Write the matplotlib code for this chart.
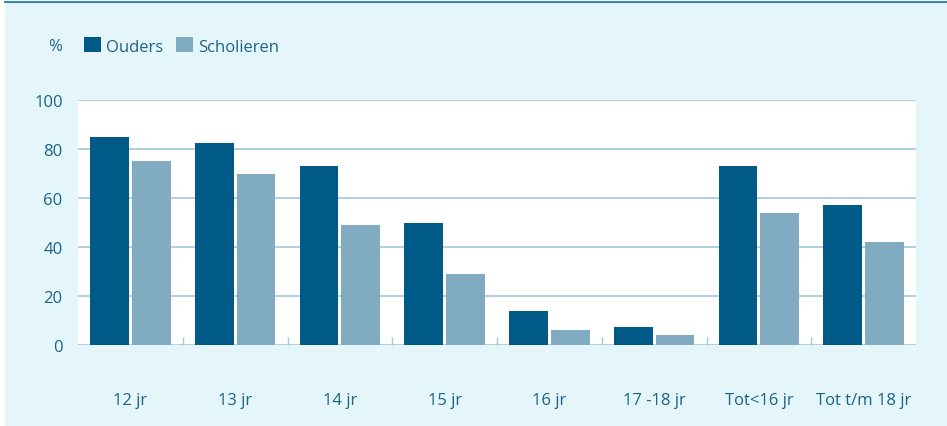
import numpy as np
import matplotlib.pyplot as plt
from matplotlib.patches import Rectangle
from matplotlib.lines import Line2D

# data
categories = ['12 jr', '13 jr', '14 jr', '15 jr', '16 jr', '17 -18 jr', 'Tot<16 jr', 'Tot t/m 18 jr']
ouders = [85, 82.5, 73, 50, 14, 7.5, 73, 57]
scholieren = [75, 70, 49, 29, 6, 4, 54, 42]
yticks = [0, 20, 40, 60, 80, 100]

dark = '#005a87'
light = '#80abc1'
textc = '#1b6489'
gridc = '#a3c7da'
bg = '#e4f6fa'

plt.rcParams['font.family'] = ['Open Sans', 'DejaVu Sans']
fs = 12

W, H = 947, 427
fig = plt.figure(figsize=(W / 100, H / 100), dpi=100)
fig.patch.set_facecolor('white')

# light background panel and top rule (behind the axes)
fig.add_artist(Rectangle((5 / W, 0), 1, (H - 3) / H, transform=fig.transFigure,
                         facecolor=bg, edgecolor='none', zorder=-10))
fig.add_artist(Line2D([5 / W, 1], [1 - 2.5 / H, 1 - 2.5 / H], transform=fig.transFigure,
                      color='#3a88ad', linewidth=1.5, zorder=-5))

left, right, top, bottom = 78, 916, 101, 346
ax = fig.add_axes([left / W, 1 - bottom / H, (right - left) / W, (bottom - top) / H])
ax.set_facecolor('white')

x = np.arange(len(categories))
w = 0.37
ax.bar(x - w / 2 - 0.015, ouders, width=w, color=dark, label='Ouders', zorder=3)
ax.bar(x + w / 2 + 0.015, scholieren, width=w, color=light, label='Scholieren', zorder=3)

ax.set_xlim(-0.5, len(categories) - 0.5)
ax.set_ylim(0, 100)
ax.set_yticks(yticks)
ax.yaxis.grid(True, color=gridc, linewidth=1.2, zorder=1)
ax.set_axisbelow(True)
for s in ax.spines.values():
    s.set_visible(False)

ax.tick_params(axis='y', length=0, pad=11, labelsize=fs, labelcolor=textc)
ax.set_xticks(x)
ax.set_xticklabels(categories)
ax.tick_params(axis='x', which='major', length=0, pad=34, labelsize=fs, labelcolor=textc)
ax.set_xticks(np.arange(0.5, len(categories) - 1, 1), minor=True)
ax.tick_params(axis='x', which='minor', direction='in', length=6, width=1, color=gridc)

fig.text(62 / W, 1 - 47 / H, '%', ha='right', va='center', fontsize=fs, color=textc)
ax.legend(loc='center left', bbox_to_anchor=(84 / W, 1 - 47 / H), bbox_transform=fig.transFigure,
          ncol=2, frameon=False, fontsize=fs, labelcolor=textc, handlelength=1.0,
          handleheight=1.0, handletextpad=0.3, columnspacing=0.8, borderpad=0, borderaxespad=0)

fig.savefig('out.png', dpi=100)
